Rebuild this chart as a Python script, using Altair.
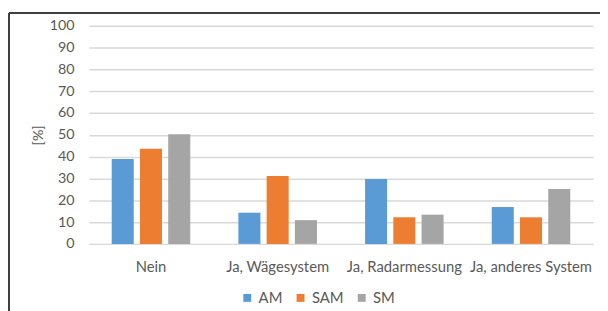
import altair as alt
import pandas as pd

categories = ["Nein", "Ja, Wägesystem", "Ja, Radarmessung", "Ja, anderes System"]
series = ["AM", "SAM", "SM"]
am = [38.9, 14.3, 29.7, 16.9]
sam = [43.6, 31.1, 12.2, 12.2]
sm = [50.3, 10.9, 13.4, 25.2]
colors = ["#5B9BD5", "#ED7D31", "#A5A5A5"]

rows = []
for i, c in enumerate(categories):
    for s, vals in zip(series, [am, sam, sm]):
        rows.append({"Kategorie": c, "Serie": s, "Wert": vals[i]})
df = pd.DataFrame(rows)

FONT = "Lato"
TXT = "#595959"
W, H = 511, 221

bars = alt.Chart(df).mark_bar().encode(
    x=alt.X("Kategorie:N", sort=categories, title=None,
            scale=alt.Scale(paddingInner=0.38, paddingOuter=0.18),
            axis=alt.Axis(labelAngle=0, ticks=False, domainColor="#D9D9D9",
                          labelFontSize=15, labelColor=TXT, labelFont=FONT,
                          labelPadding=16)),
    xOffset=alt.XOffset("Serie:N", sort=series,
                        scale=alt.Scale(paddingInner=0.22, paddingOuter=0)),
    y=alt.Y("Wert:Q", title="[%]", scale=alt.Scale(domain=[0, 100], nice=False),
            axis=alt.Axis(values=list(range(0, 101, 10)), ticks=False, domain=False,
                          gridColor="#D9D9D9", gridWidth=1.5,
                          labelFontSize=14.5, labelColor=TXT, labelFont=FONT,
                          labelPadding=15, titleFont=FONT, titleFontSize=14.5,
                          titleColor=TXT, titleFontWeight="normal",
                          titlePadding=4)),
    color=alt.Color("Serie:N", sort=series,
                    scale=alt.Scale(domain=series, range=colors),
                    legend=alt.Legend(title=None, orient="none", direction="horizontal",
                                      legendX=153, legendY=268,
                                      symbolType="square", symbolSize=64,
                                      symbolStrokeWidth=0,
                                      labelFont=FONT, labelFontSize=15,
                                      labelColor=TXT, columnPadding=10,
                                      labelOffset=4)),
)

frame_top = alt.Chart(df).mark_rule(color="#404040", strokeWidth=1.5).encode(
    x=alt.value(-81), x2=alt.value(W + 20), y=alt.value(-13))
frame_left = alt.Chart(df).mark_rule(color="#404040", strokeWidth=1.5).encode(
    x=alt.value(-81), y=alt.value(-13), y2=alt.value(H + 90))

chart = alt.layer(frame_top, frame_left, bars).properties(
    width=W, height=H,
    autosize=alt.AutoSizeParams(type="none"),
    padding={"left": 82, "top": 16, "right": 7, "bottom": 70},
    background="white",
).configure_view(stroke=None)

chart.save("out.html", embed_options={"renderer": "svg", "actions": False})
